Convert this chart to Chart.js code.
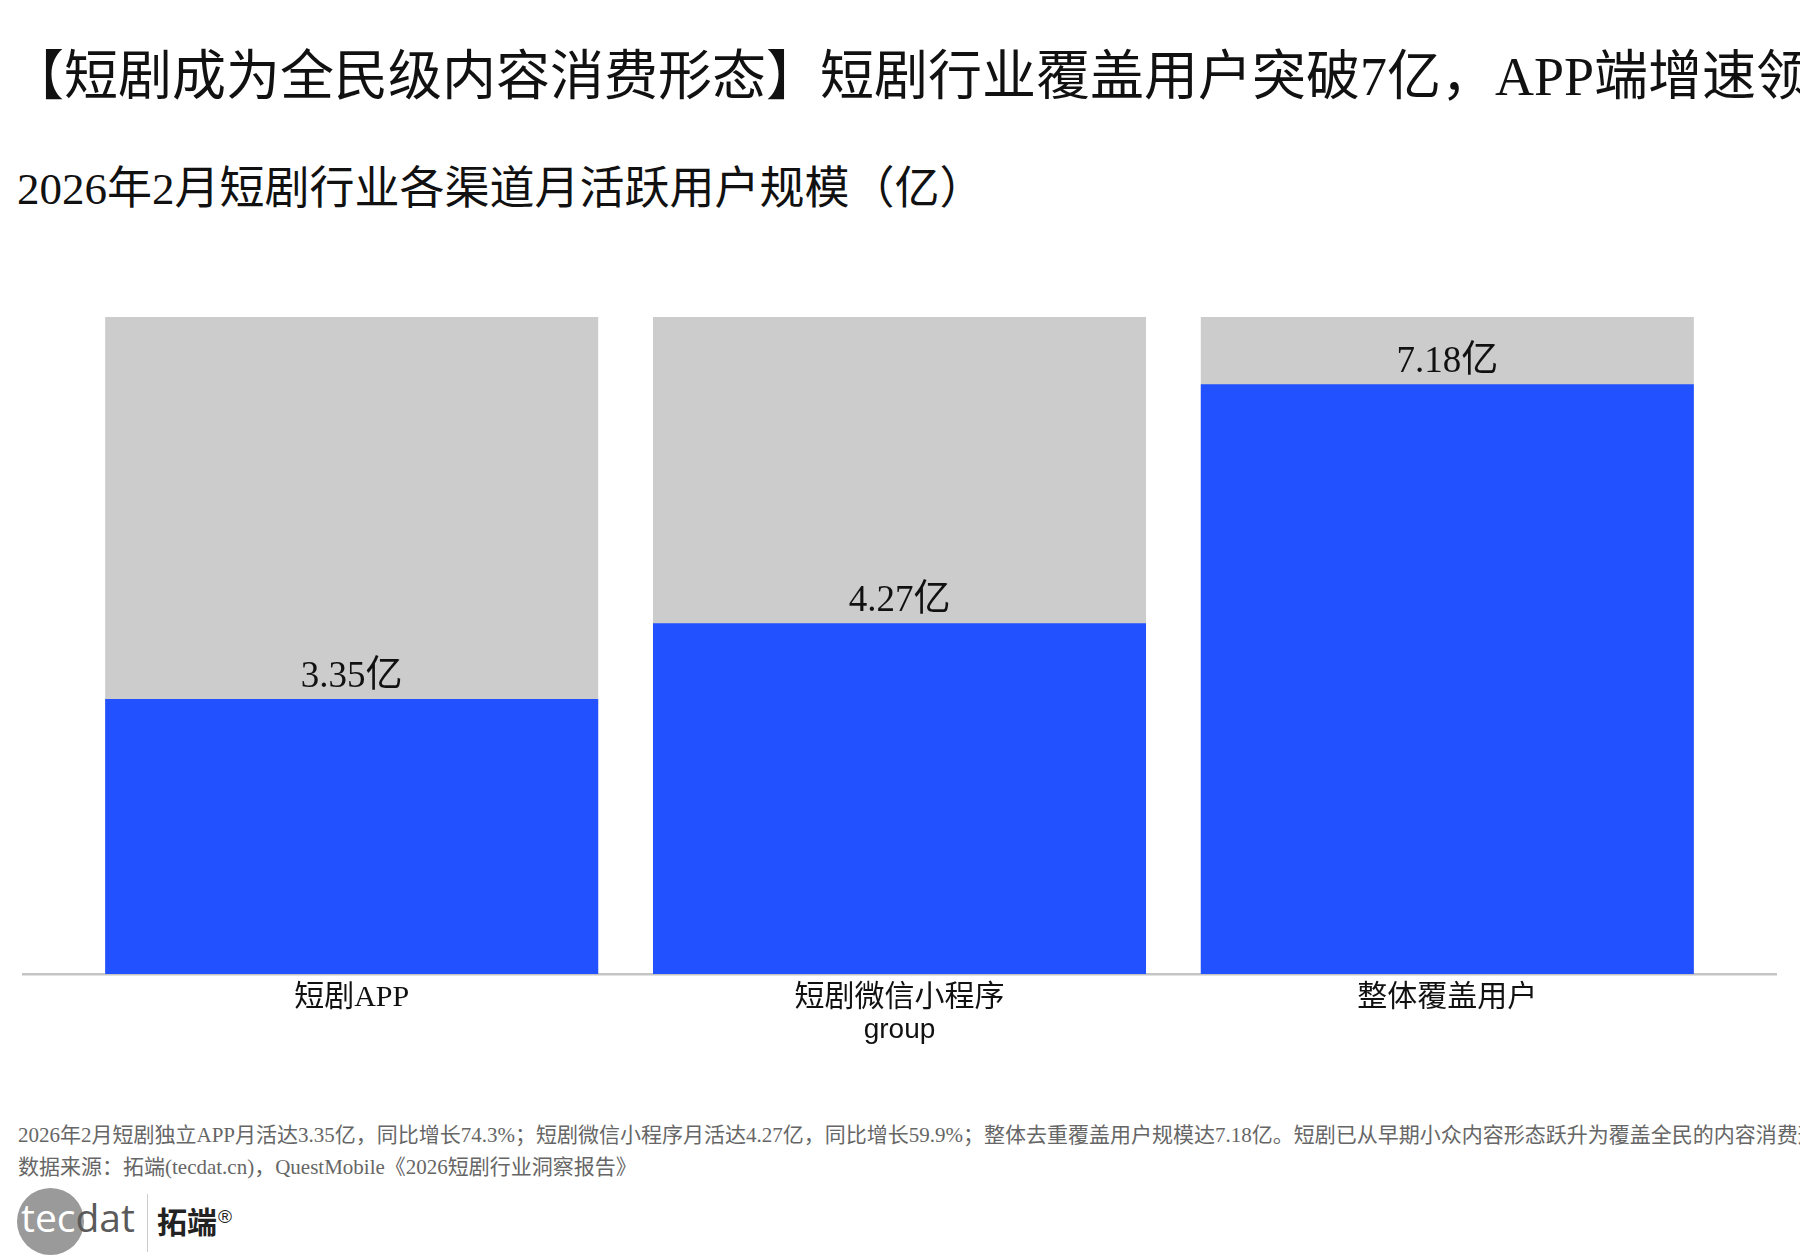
<!DOCTYPE html>
<html>
<head>
<meta charset="utf-8">
<script src="https://cdn.jsdelivr.net/npm/chart.js@4.4.1/dist/chart.umd.min.js"></script>
<style>
  body { margin: 0; width: 1800px; height: 1260px; background: #fff; overflow: hidden; position: relative; }
  .txt { position: absolute; white-space: nowrap; font-family: "Liberation Serif", "Noto Sans CJK SC", serif; }
  #title { left: 10px; top: 47px; font-size: 54px; line-height: 60px; color: #111; }
  #subtitle { left: 17px; top: 163px; font-size: 45px; line-height: 52px; color: #111; }
  .note { left: 18px; font-size: 21px; line-height: 28px; color: #666; }
  #chartBox { position: absolute; left: 0; top: 0; width: 1800px; height: 1100px; }
  #logo { position: absolute; left: 17px; top: 1188px; width: 260px; height: 68px; }
  #logo .circle { position: absolute; left: 0; top: 0; width: 67px; height: 67px; border-radius: 50%; background: #9a9a9a; }
  #logo .word { position: absolute; left: 4px; top: 6px; font-family: "Open Sans", sans-serif; font-size: 39px; line-height: 46px; }
  #logo .sep { position: absolute; left: 130px; top: 6px; width: 1px; height: 58px; background: #ccc; }
  #logo .cn { position: absolute; left: 140px; top: 10px; font-family: "Noto Sans CJK SC", sans-serif; font-weight: bold; font-size: 30px; line-height: 38px; color: #222; }
  #logo .cn sup { font-family: "Liberation Sans", sans-serif; font-size: 19px; font-weight: normal; vertical-align: 10px; margin-left: 1px; }
</style>
</head>
<body>
<div id="title" class="txt">【短剧成为全民级内容消费形态】短剧行业覆盖用户突破7亿，APP端增速领跑</div>
<div id="subtitle" class="txt">2026年2月短剧行业各渠道月活跃用户规模（亿）</div>
<div id="chartBox"><canvas id="chart"></canvas></div>
<div class="txt note" style="top:1121px">2026年2月短剧独立APP月活达3.35亿，同比增长74.3%；短剧微信小程序月活达4.27亿，同比增长59.9%；整体去重覆盖用户规模达7.18亿。短剧已从早期小众内容形态跃升为覆盖全民的内容消费形态。</div>
<div class="txt note" style="top:1153px">数据来源：拓端(tecdat.cn)，QuestMobile《2026短剧行业洞察报告》</div>
<div id="logo">
  <div class="circle"></div>
  <div class="word"><span style="color:#fff">tec</span><span style="color:#5a5a5a">dat</span></div>
  <div class="sep"></div>
  <div class="cn">拓端<sup>®</sup></div>
</div>
<script>
// data
const categories = ["短剧APP", "短剧微信小程序", "整体覆盖用户"];
const users = [3.35, 4.27, 7.18];   // 亿
const fullScale = [8, 8, 8];        // grey backdrop bars
const axisTitle = "group";

const cjkFont = '"Liberation Serif", "Noto Sans CJK SC", serif';

// value labels above the blue bars
const valueLabels = {
    id: 'valueLabels',
    afterDatasetsDraw(chart) {
        const ctx = chart.ctx;
        const meta = chart.getDatasetMeta(0);
        ctx.save();
        ctx.font = '37px ' + cjkFont;
        ctx.fillStyle = '#111';
        ctx.textAlign = 'center';
        ctx.textBaseline = 'alphabetic';
        meta.data.forEach((bar, i) => {
            ctx.fillText(users[i].toFixed(2) + '亿', bar.x, bar.y - 12);
        });
        ctx.restore();
    }
};

new Chart(document.getElementById('chart'), {
    type: 'bar',
    data: {
        datasets: [
            {
                label: 'users',
                data: categories.map((c, i) => ({ x: i + 1, y: users[i] })),
                backgroundColor: '#2251ff',
                grouped: false,
                order: 0
            },
            {
                label: 'scale',
                data: categories.map((c, i) => ({ x: i + 1, y: fullScale[i] })),
                backgroundColor: '#cccccc',
                grouped: false,
                order: 1
            }
        ]
    },
    options: {
        responsive: true,
        maintainAspectRatio: false,
        animation: false,
        categoryPercentage: 0.9,
        barPercentage: 1,
        layout: { padding: { left: 23, right: 24, top: 317, bottom: 46 } },
        plugins: { legend: { display: false }, tooltip: { enabled: false } },
        scales: {
            x: {
                type: 'linear',
                offset: false,
                min: 0.4,
                max: 3.6,
                afterBuildTicks: (axis) => { axis.ticks = categories.map((c, i) => ({ value: i + 1 })); },
                afterFit: (axis) => { axis.height = 80; },
                grid: { display: false, drawTicks: false, offset: false },
                border: { display: true, color: '#c4c4c4', width: 2.5 },
                ticks: {
                    padding: 6,
                    autoSkip: false,
                    maxRotation: 0,
                    color: '#111',
                    font: { family: cjkFont, size: 30 },
                    callback: (v) => categories[v - 1]
                },
                title: {
                    display: true,
                    text: axisTitle,
                    color: '#111',
                    padding: { top: 0, bottom: 7 },
                    font: { family: '"Liberation Sans", sans-serif', size: 28 }
                }
            },
            y: { display: false, min: 0, max: 8 }
        }
    },
    plugins: [valueLabels]
});
</script>
</body>
</html>
